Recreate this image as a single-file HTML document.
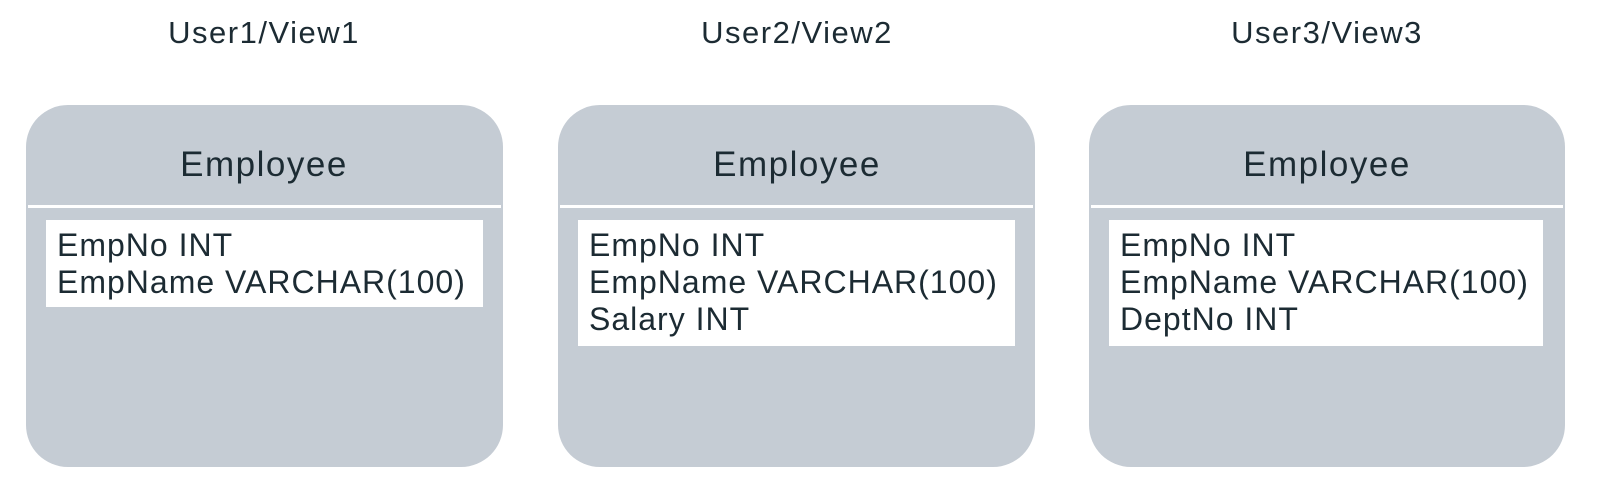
<!DOCTYPE html>
<html><head><meta charset="utf-8"><style>
body{margin:0;width:1606px;height:494px;background:#fff;overflow:hidden}
svg{display:block}
text{font-family:"Liberation Sans",sans-serif;fill:#1c2b33}
</style></head><body>
<svg width="1606" height="494">
<g>
<text x="264" y="43" font-size="31" letter-spacing="1.5" text-anchor="middle">User1/View1</text>
<rect x="26" y="105" width="477" height="362" rx="42" fill="#c5ccd4"/>
<text x="264" y="176" font-size="35" letter-spacing="1.5" text-anchor="middle">Employee</text>
<rect x="28" y="205" width="473" height="3" fill="#fff"/>
<rect x="46" y="220" width="437" height="87" fill="#fff"/>
<text x="57" y="256" font-size="32" letter-spacing="1">EmpNo INT</text>
<text x="57" y="293" font-size="32" letter-spacing="1">EmpName VARCHAR(100)</text>
</g>
<g>
<text x="797" y="43" font-size="31" letter-spacing="1.5" text-anchor="middle">User2/View2</text>
<rect x="558" y="105" width="477" height="362" rx="42" fill="#c5ccd4"/>
<text x="797" y="176" font-size="35" letter-spacing="1.5" text-anchor="middle">Employee</text>
<rect x="560" y="205" width="473" height="3" fill="#fff"/>
<rect x="578" y="220" width="437" height="126" fill="#fff"/>
<text x="589" y="256" font-size="32" letter-spacing="1">EmpNo INT</text>
<text x="589" y="293" font-size="32" letter-spacing="1">EmpName VARCHAR(100)</text>
<text x="589" y="330" font-size="32" letter-spacing="1">Salary INT</text>
</g>
<g>
<text x="1327" y="43" font-size="31" letter-spacing="1.5" text-anchor="middle">User3/View3</text>
<rect x="1089" y="105" width="476" height="362" rx="42" fill="#c5ccd4"/>
<text x="1327" y="176" font-size="35" letter-spacing="1.5" text-anchor="middle">Employee</text>
<rect x="1091" y="205" width="472" height="3" fill="#fff"/>
<rect x="1109" y="220" width="434" height="126" fill="#fff"/>
<text x="1120" y="256" font-size="32" letter-spacing="1">EmpNo INT</text>
<text x="1120" y="293" font-size="32" letter-spacing="1">EmpName VARCHAR(100)</text>
<text x="1120" y="330" font-size="32" letter-spacing="1">DeptNo INT</text>
</g>
</svg>
</body></html>
